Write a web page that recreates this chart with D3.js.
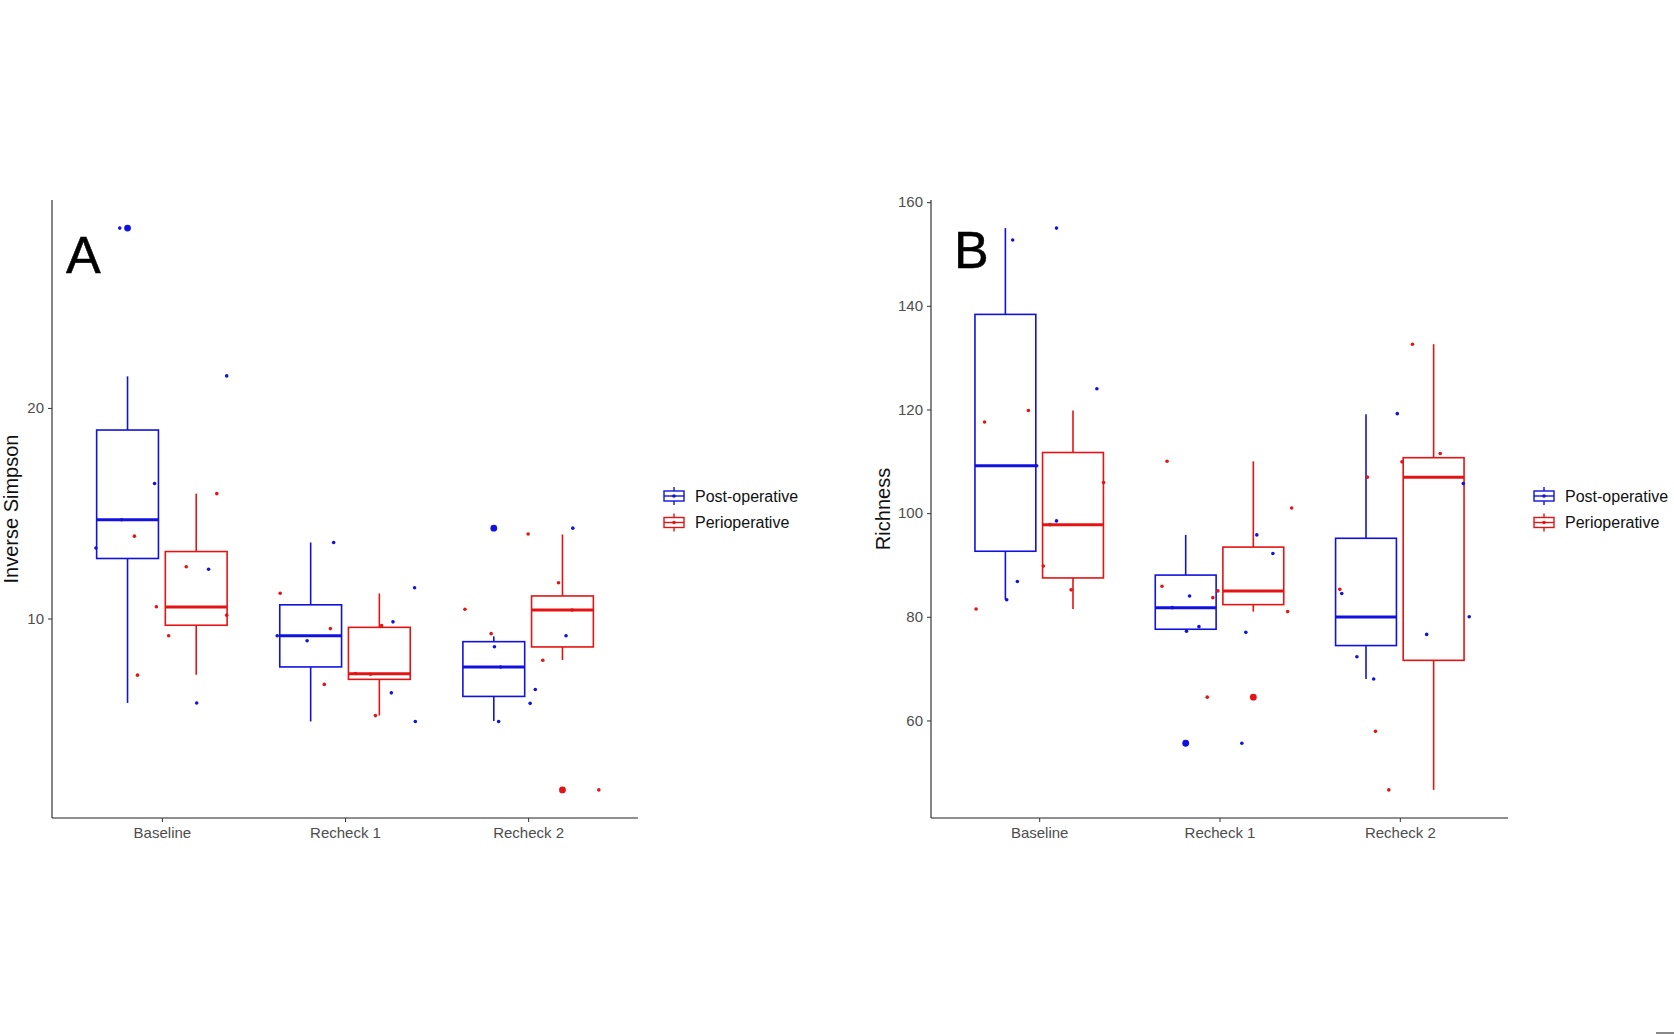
<!DOCTYPE html>
<html>
<head>
<meta charset="utf-8">
<script src="https://cdn.jsdelivr.net/npm/d3@7"></script>
<style>
  body { margin: 0; background: #fff; }
  text { font-family: "Liberation Sans", Arial, sans-serif; }
</style>
</head>
<body>
<div id="chart"></div>
<script>
// categories
var timepoints = ["Baseline", "Recheck 1", "Recheck 2"];
var groups = ["Post-operative", "Perioperative"];
var colors = ["#1212e0", "#e41414"];

// ---- Panel A : Inverse Simpson ----
// box stats per timepoint: [lower whisker, q1, median, q3, upper whisker]
var simpsonPostBox = [[5.99, 12.85, 14.69, 18.95, 21.5], [5.11, 7.7, 9.18, 10.65, 13.61], [5.13, 6.3, 7.7, 8.9, 9.15]];
var simpsonPeriBox = [[7.33, 9.68, 10.55, 13.18, 15.93], [5.39, 7.11, 7.38, 9.58, 11.19], [8.03, 8.65, 10.4, 11.07, 13.99]];
var simpsonPostOut = [[28.54], [], [14.29]];
var simpsonPeriOut = [[], [], [1.86]];
// jittered observations and their horizontal jitter (in category steps)
var simpsonPostPts = [[28.54, 13.35, 16.41, 12.34, 5.99, 21.52, 14.69], [13.61, 11.46, 9.18, 8.94, 9.84, 6.47, 5.11], [14.29, 8.66, 6.63, 5.97, 5.11, 9.18, 7.70]];
var simpsonPostJit = [[-0.23, -0.36, -0.04, 0.255, 0.19, 0.354, -0.22], [-0.062, 0.38, -0.37, -0.207, 0.262, 0.253, 0.384], [0.244, -0.184, 0.039, 0.011, -0.161, 0.207, -0.15]];
var simpsonPeriPts = [[13.91, 12.46, 10.56, 9.18, 7.31, 15.93, 10.16], [11.20, 9.52, 6.87, 5.39, 9.66, 7.35, 7.39], [14.01, 11.70, 10.44, 9.28, 8.02, 1.86, 10.40]];
var simpsonPeriJit = [[-0.15, 0.133, -0.03, 0.037, -0.133, 0.30, 0.354], [-0.354, -0.08, -0.113, 0.166, 0.2, 0.14, 0.057], [0, 0.166, -0.345, -0.202, 0.08, 0.386, 0.24]];
var simpsonTicks = [10, 20];

// ---- Panel B : Richness ----
var richPostBox = [[83.3, 92.65, 109.15, 138.35, 155.0], [77.4, 77.6, 81.77, 88.05, 95.8], [68.0, 74.45, 79.95, 95.15, 119.1]];
var richPeriBox = [[81.5, 87.5, 97.78, 111.7, 119.8], [81.0, 82.35, 85.0, 93.45, 110.0], [46.6, 71.6, 106.95, 110.7, 132.6]];
var richPostOut = [[], [55.6], []];
var richPeriOut = [[], [64.5], []];
var richPostPts = [[83.3, 152.7, 155.0, 86.8, 124.0, 98.5, 109.15], [55.6, 84.0, 78.1, 77.2, 95.8, 92.2, 81.77, 77.0], [119.2, 84.5, 72.3, 68.0, 76.6, 105.7, 80.0]];
var richPostJit = [[-0.18, -0.147, 0.096, -0.121, 0.32, 0.096, -0.014], [0.124, -0.166, -0.114, -0.183, 0.207, 0.296, -0.262, 0.146], [-0.014, -0.322, -0.238, -0.145, 0.149, 0.352, 0.385]];
var richPeriPts = [[81.5, 117.6, 119.8, 105.9, 89.8, 85.2, 97.78], [110.0, 85.9, 83.7, 85.0, 81.0, 101.0, 64.5], [132.6, 111.5, 109.9, 106.95, 85.3, 57.9, 46.6]];
var richPeriJit = [[-0.35, -0.303, -0.06, 0.357, 0.023, 0.177, 0.06], [-0.291, -0.319, -0.037, -0.009, 0.378, 0.4, -0.068], [0.07, 0.224, 0.012, -0.18, -0.333, -0.135, -0.061]];
var richTicks = [60, 80, 100, 120, 140, 160];

var svg = d3.select("#chart").append("svg")
  .attr("width", 1674)
  .attr("height", 1034);

function drawPanel(cfg) {
  var boxes = [cfg.postBox, cfg.periBox];
  var outs = [cfg.postOut, cfg.periOut];
  var pts = [cfg.postPts, cfg.periPts];
  var jit = [cfg.postJit, cfg.periJit];

  // y extent from all values, ggplot style 5% expansion
  var all = d3.merge(boxes.map(function(b){ return d3.merge(b); }))
    .concat(d3.merge(outs.map(function(o){ return d3.merge(o); })))
    .concat(d3.merge(pts.map(function(p){ return d3.merge(p); })));
  var ext = d3.extent(all);
  var pad = (ext[1] - ext[0]) * 0.05;

  var x = d3.scalePoint().domain(timepoints).range([cfg.left, cfg.right]).padding(0.6);
  var y = d3.scaleLinear().domain([ext[0] - pad, ext[1] + pad]).range([cfg.bottom, cfg.top]);
  var step = x.step();

  var g = svg.append("g");

  // axes
  g.append("g")
    .attr("transform", "translate(0," + cfg.bottom + ")")
    .call(d3.axisBottom(x).tickSize(4).tickPadding(5))
    .call(function(a){
      a.select(".domain").attr("stroke", "#222").attr("stroke-width", 1.1)
        .attr("d", "M" + cfg.left + ",0H" + cfg.right);
      a.selectAll(".tick line").attr("stroke", "#333");
      a.selectAll("text").attr("fill", "#4d4d4d").style("font-size", "15px");
    });

  g.append("g")
    .attr("transform", "translate(" + cfg.left + ",0)")
    .call(d3.axisLeft(y).tickValues(cfg.ticks).tickSize(4).tickPadding(4))
    .call(function(a){
      a.select(".domain").attr("stroke", "#222").attr("stroke-width", 1.1)
        .attr("d", "M0," + cfg.top + "V" + cfg.bottom);
      a.selectAll(".tick line").attr("stroke", "#333");
      a.selectAll("text").attr("fill", "#4d4d4d").style("font-size", "15px");
    });

  g.append("text")
    .attr("transform", "translate(" + cfg.labelX + "," + ((cfg.top + cfg.bottom) / 2) + ") rotate(-90)")
    .attr("text-anchor", "middle")
    .style("font-size", "20px")
    .attr("fill", "#111")
    .text(cfg.yLabel);

  // boxes
  groups.forEach(function(grp, gi) {
    var off = (gi == 0 ? -0.1875 : 0.1875) * step;
    var hw = 0.16875 * step;
    boxes[gi].forEach(function(s, ti) {
      var cx = x(timepoints[ti]) + off;
      var col = colors[gi];
      g.append("line").attr("x1", cx).attr("x2", cx).attr("y1", y(s[0])).attr("y2", y(s[1]))
        .attr("stroke", col).attr("stroke-width", 1.6);
      g.append("line").attr("x1", cx).attr("x2", cx).attr("y1", y(s[3])).attr("y2", y(s[4]))
        .attr("stroke", col).attr("stroke-width", 1.6);
      g.append("rect").attr("x", cx - hw).attr("width", hw * 2)
        .attr("y", y(s[3])).attr("height", y(s[1]) - y(s[3]))
        .attr("fill", "white").attr("stroke", col).attr("stroke-width", 1.6);
      g.append("line").attr("x1", cx - hw).attr("x2", cx + hw).attr("y1", y(s[2])).attr("y2", y(s[2]))
        .attr("stroke", col).attr("stroke-width", 3);
      outs[gi][ti].forEach(function(v) {
        g.append("circle").attr("cx", cx).attr("cy", y(v)).attr("r", 3.4).attr("fill", col);
      });
    });
  });

  // jittered points
  groups.forEach(function(grp, gi) {
    pts[gi].forEach(function(vals, ti) {
      g.selectAll(null)
        .data(vals)
        .enter()
        .append("circle")
        .attr("cx", function(d, i){ return x(timepoints[ti]) + jit[gi][ti][i] * step; })
        .attr("cy", function(d){ return y(d); })
        .attr("r", 1.8)
        .attr("fill", colors[gi]);
    });
  });

  // panel letter
  g.append("text")
    .attr("x", cfg.letterX).attr("y", cfg.letterY)
    .style("font-size", "52px")
    .attr("fill", "#000")
    .attr("stroke", "#000").attr("stroke-width", 0.5)
    .text(cfg.letter);

  // legend
  var leg = g.append("g").attr("transform", "translate(" + cfg.legendX + ",496)");
  groups.forEach(function(grp, gi) {
    var row = leg.append("g").attr("transform", "translate(0," + (gi * 26.5) + ")");
    var col = colors[gi];
    row.append("line").attr("x1", 11).attr("x2", 11).attr("y1", -9).attr("y2", 9)
      .attr("stroke", col).attr("stroke-width", 1.4);
    row.append("rect").attr("x", 1).attr("y", -5).attr("width", 20).attr("height", 10)
      .attr("fill", "white").attr("stroke", col).attr("stroke-width", 1.4);
    row.append("line").attr("x1", 1).attr("x2", 21).attr("y1", 0).attr("y2", 0)
      .attr("stroke", col).attr("stroke-width", 1.4);
    row.append("circle").attr("cx", 11).attr("cy", 0).attr("r", 1.8).attr("fill", col);
    row.append("text").attr("x", 32).attr("y", 0).attr("dy", "0.35em")
      .style("font-size", "16px").attr("fill", "#111").text(grp);
  });
}

drawPanel({
  left: 52, right: 638, top: 200, bottom: 818,
  postBox: simpsonPostBox, periBox: simpsonPeriBox,
  postOut: simpsonPostOut, periOut: simpsonPeriOut,
  postPts: simpsonPostPts, periPts: simpsonPeriPts,
  postJit: simpsonPostJit, periJit: simpsonPeriJit,
  ticks: simpsonTicks, yLabel: "Inverse Simpson", labelX: 18,
  letter: "A", letterX: 66, letterY: 273, legendX: 663
});

drawPanel({
  left: 931, right: 1508, top: 200, bottom: 818,
  postBox: richPostBox, periBox: richPeriBox,
  postOut: richPostOut, periOut: richPeriOut,
  postPts: richPostPts, periPts: richPeriPts,
  postJit: richPostJit, periJit: richPeriJit,
  ticks: richTicks, yLabel: "Richness", labelX: 890,
  letter: "B", letterX: 954, letterY: 268, legendX: 1533
});

// small mark at the lower right corner of the figure
svg.append("rect").attr("x", 1656).attr("y", 1032).attr("width", 18).attr("height", 2).attr("fill", "#888");
</script>
</body>
</html>
